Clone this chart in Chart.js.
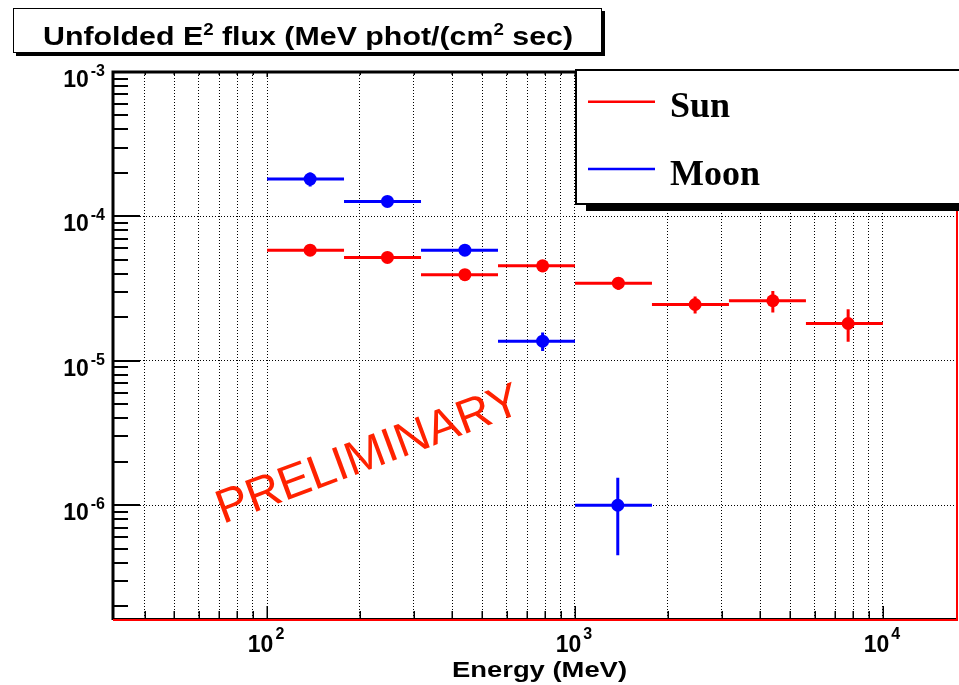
<!DOCTYPE html>
<html>
<head>
<meta charset="utf-8">
<script src="https://cdn.jsdelivr.net/npm/chart.js@4/dist/chart.umd.min.js"></script>
<style>
  html, body { margin: 0; padding: 0; background: #fff; overflow: hidden; }
  canvas { display: block; }
</style>
</head>
<body>
<canvas id="c" width="959" height="685"></canvas>
<script>
// Energy bins (MeV), 4 per decade from 100 MeV to 10 GeV
const binEdges = [100, 177.8, 316.2, 562.3, 1000, 1778, 3162, 5623, 10000];

// Sun: mean energy in bin, E^2 flux and its uncertainty
const sunEnergy = [138, 246, 439, 785, 1383, 2455, 4390, 7710];
const sunFlux   = [5.84e-5, 5.20e-5, 3.95e-5, 4.55e-5, 3.45e-5, 2.455e-5, 2.605e-5, 1.813e-5];
const sunErr    = [0.2e-5, 0.2e-5, 0.2e-5, 0.45e-5, 0.34e-5, 0.33e-5, 0.44e-5, 0.46e-5];

// Moon
const moonEnergy = [138, 246, 439, 785, 1377];
const moonFlux   = [1.813e-4, 1.27e-4, 5.84e-5, 1.368e-5, 1.0e-6];
const moonErr    = [0.2e-4, 0.1e-4, 0.25e-5, 0.2e-5, 0.55e-6];

// Axis ranges and labelled decades
const xRange = [31.6, 17400];
const yRange = [1.63e-7, 1e-3];
const xLabelExponents = [2, 3, 4];
const yLabelExponents = [-6, -5, -4, -3];

const seriesNames = ['Sun', 'Moon'];
const SUN = '#ff0000', MOON = '#0000ff';
const SANS = '"Liberation Sans", Arial, Helvetica, sans-serif';
const SERIF = '"Liberation Serif", "Times New Roman", serif';

const isPow10 = v => Math.abs(Math.log10(v) - Math.round(Math.log10(v))) < 1e-6;

function logTicks(min, max) {
  const out = [];
  for (let e = Math.floor(Math.log10(min)); e <= Math.ceil(Math.log10(max)); e++) {
    for (let m = 1; m <= 9; m++) {
      const v = parseFloat((m * Math.pow(10, e)).toPrecision(6));
      if (v >= min * 0.9999 && v <= max * 1.0001) out.push({ value: v });
    }
  }
  return out;
}

const pts = (xs, ys) => xs.map((x, i) => ({ x, y: ys[i] }));

// "10" with a raised exponent
function drawPow(ctx, exp, anchorX, baseY, expY, align) {
  ctx.font = 'bold 23px ' + SANS;
  const wb = ctx.measureText('10').width;
  ctx.font = 'bold 16px ' + SANS;
  const we = ctx.measureText(String(exp)).width;
  const total = wb + 2 + we;
  const x0 = align === 'right' ? anchorX - total : anchorX - total / 2;
  ctx.textAlign = 'left';
  ctx.textBaseline = 'alphabetic';
  ctx.font = 'bold 23px ' + SANS;
  ctx.fillText('10', x0, baseY);
  ctx.font = 'bold 16px ' + SANS;
  ctx.fillText(String(exp), x0 + wb + 2, expY);
}

// Text runs with superscripts, stretched to a given width
function drawRich(ctx, parts, x, baseY, width, size, supSize, supRise) {
  let total = 0;
  parts.forEach(p => {
    ctx.font = 'bold ' + (p.sup ? supSize : size) + 'px ' + SANS;
    total += ctx.measureText(p.t).width;
  });
  const sx = width / total;
  ctx.save();
  ctx.translate(x, baseY);
  ctx.scale(sx, 1);
  ctx.textAlign = 'left';
  ctx.textBaseline = 'alphabetic';
  let cx = 0;
  parts.forEach(p => {
    ctx.font = 'bold ' + (p.sup ? supSize : size) + 'px ' + SANS;
    ctx.fillText(p.t, cx, p.sup ? -supRise : 0);
    cx += ctx.measureText(p.t).width;
  });
  ctx.restore();
}

const decorations = {
  id: 'decorations',
  beforeDatasetsDraw(chart) {
    const { ctx, scales: { x, y } } = chart;
    const area = chart.chartArea;
    ctx.save();
    ctx.beginPath();
    ctx.rect(area.left, area.top, area.right - area.left, area.bottom - area.top);
    ctx.clip();

    // watermark
    ctx.save();
    ctx.translate(223, 524);
    ctx.rotate(-20.4 * Math.PI / 180);
    ctx.font = '47.5px ' + SANS;
    ctx.fillStyle = '#ff2200';
    ctx.textBaseline = 'alphabetic';
    ctx.fillText('PRELIMINARY', 0, 0);
    ctx.restore();

    // bin-width and uncertainty bars
    const series = [
      { e: sunEnergy, f: sunFlux, err: sunErr, c: SUN },
      { e: moonEnergy, f: moonFlux, err: moonErr, c: MOON }
    ];
    ctx.lineWidth = 3;
    ctx.lineCap = 'butt';
    series.forEach(s => {
      ctx.strokeStyle = s.c;
      s.f.forEach((fv, i) => {
        const yc = y.getPixelForValue(fv);
        const xl = x.getPixelForValue(binEdges[i]);
        const xh = x.getPixelForValue(binEdges[i + 1]);
        const xc = x.getPixelForValue(s.e[i]);
        ctx.beginPath();
        ctx.moveTo(xl, yc); ctx.lineTo(xh, yc);
        ctx.moveTo(xc, y.getPixelForValue(fv + s.err[i]));
        ctx.lineTo(xc, y.getPixelForValue(fv - s.err[i]));
        ctx.stroke();
      });
    });
    ctx.restore();
  },
  afterDraw(chart) {
    const { ctx, scales: { x, y } } = chart;
    const a = chart.chartArea;
    ctx.save();

    // frame
    ctx.strokeStyle = '#000';
    ctx.lineWidth = 3;
    ctx.beginPath();
    ctx.moveTo(a.left, a.top - 1.5); ctx.lineTo(a.left, a.bottom + 1);
    ctx.moveTo(a.left - 1.5, a.top); ctx.lineTo(a.right, a.top);
    ctx.stroke();
    ctx.lineWidth = 1;
    ctx.beginPath();
    ctx.moveTo(a.left, a.bottom - 0.5); ctx.lineTo(a.right, a.bottom - 0.5);
    ctx.stroke();
    ctx.strokeStyle = '#ff0000';
    ctx.lineWidth = 2;
    ctx.beginPath();
    ctx.moveTo(a.left, a.bottom + 1); ctx.lineTo(a.right + 1, a.bottom + 1);
    ctx.moveTo(a.right, a.top); ctx.lineTo(a.right, a.bottom + 2);
    ctx.stroke();

    // tick marks
    ctx.strokeStyle = '#000';
    ctx.lineWidth = 2;
    ctx.beginPath();
    y.ticks.forEach(t => {
      const py = Math.round(y.getPixelForValue(t.value));
      const len = isPow10(t.value) ? 27 : 15;
      ctx.moveTo(a.left, py); ctx.lineTo(a.left + len, py);
    });
    ctx.stroke();
    ctx.lineWidth = 1.5;
    ctx.beginPath();
    x.ticks.forEach(t => {
      const px = Math.round(x.getPixelForValue(t.value)) + 0.25;
      const len = isPow10(t.value) ? 13 : 8;
      ctx.moveTo(px, a.bottom); ctx.lineTo(px, a.bottom - len);
      ctx.moveTo(px, a.top); ctx.lineTo(px, a.top + (isPow10(t.value) ? 5 : 3));
    });
    ctx.stroke();

    // tick labels
    ctx.fillStyle = '#000';
    yLabelExponents.forEach(e => {
      const py = y.getPixelForValue(Math.pow(10, e));
      drawPow(ctx, e, 105, py + 15, py + 4, 'right');
    });
    xLabelExponents.forEach(e => {
      const px = x.getPixelForValue(Math.pow(10, e));
      drawPow(ctx, e, px - 1, 652, 639, 'center');
    });

    // axis title
    drawRich(ctx, [{ t: 'Energy (MeV)' }], 452, 677, 175, 22, 14, 0);

    // title box
    ctx.fillStyle = '#000';
    ctx.fillRect(16, 11, 589, 45);
    ctx.fillStyle = '#fff';
    ctx.fillRect(13, 8, 589, 45);
    ctx.strokeStyle = '#000';
    ctx.lineWidth = 1;
    ctx.strokeRect(13.5, 8.5, 588, 44);
    ctx.fillStyle = '#000';
    drawRich(ctx, [
      { t: 'Unfolded E' }, { t: '2', sup: true },
      { t: ' flux (MeV phot/(cm' }, { t: '2', sup: true },
      { t: ' sec)' }
    ], 43, 45, 530, 26, 16, 10);

    // legend box
    ctx.fillStyle = '#000';
    ctx.fillRect(586, 75, 380, 136);
    ctx.fillStyle = '#fff';
    ctx.fillRect(575, 69, 390, 136);
    ctx.strokeStyle = '#000';
    ctx.lineWidth = 2;
    ctx.strokeRect(576, 70, 390, 134);
    const entries = [
      { name: seriesNames[0], c: SUN, ly: 101.7, ty: 116.7 },
      { name: seriesNames[1], c: MOON, ly: 169, ty: 185 }
    ];
    entries.forEach(en => {
      ctx.strokeStyle = en.c;
      ctx.lineWidth = 2.5;
      ctx.beginPath();
      ctx.moveTo(588, en.ly); ctx.lineTo(655, en.ly);
      ctx.stroke();
      ctx.fillStyle = '#000';
      ctx.font = 'bold 36px ' + SERIF;
      ctx.textAlign = 'left';
      ctx.textBaseline = 'alphabetic';
      ctx.fillText(en.name, 670, en.ty);
    });

    ctx.restore();
  }
};

new Chart(document.getElementById('c'), {
  type: 'scatter',
  data: {
    datasets: [
      {
        label: seriesNames[0],
        data: pts(sunEnergy, sunFlux),
        backgroundColor: SUN,
        borderColor: SUN,
        borderWidth: 0,
        pointRadius: 6.5,
        pointHoverRadius: 6.5
      },
      {
        label: seriesNames[1],
        data: pts(moonEnergy, moonFlux),
        backgroundColor: MOON,
        borderColor: MOON,
        borderWidth: 0,
        pointRadius: 6.5,
        pointHoverRadius: 6.5
      }
    ]
  },
  options: {
    responsive: false,
    animation: false,
    events: [],
    layout: { autoPadding: false, padding: { left: 0, top: 72, right: 2, bottom: 0 } },
    plugins: {
      legend: { display: false },
      tooltip: { enabled: false },
      title: { display: false }
    },
    scales: {
      x: {
        type: 'logarithmic',
        min: xRange[0],
        max: xRange[1],
        afterBuildTicks: s => { s.ticks = logTicks(xRange[0], xRange[1]); },
        afterFit: s => { s.height = 66; },
        ticks: { display: false, autoSkip: false },
        grid: { color: '#000', lineWidth: 1, drawTicks: false },
        border: { display: false, dash: [1, 2] }
      },
      y: {
        type: 'logarithmic',
        min: yRange[0],
        max: yRange[1],
        afterBuildTicks: s => { s.ticks = logTicks(yRange[0], yRange[1]); },
        afterFit: s => { s.width = 113; },
        ticks: { display: false, autoSkip: false },
        grid: {
          color: c => (c.tick && isPow10(c.tick.value)) ? '#000' : 'rgba(0,0,0,0)',
          lineWidth: 1,
          drawTicks: false
        },
        border: { display: false, dash: [1, 2] }
      }
    }
  },
  plugins: [decorations]
});
</script>
</body>
</html>
